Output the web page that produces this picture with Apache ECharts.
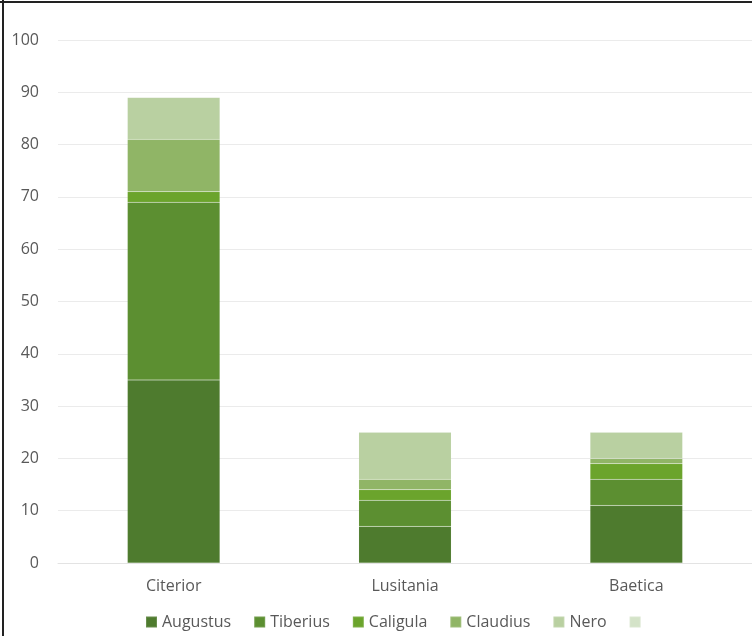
<!DOCTYPE html>
<html>
<head>
<meta charset="utf-8">
<style>
  html, body { margin: 0; padding: 0; background: #fff; }
  #chart { width: 752px; height: 636px; }
</style>
<script src="https://cdn.jsdelivr.net/npm/echarts@6/dist/echarts.min.js"></script>
</head>
<body>
<div id="chart"></div>
<script>
// Provinces of Hispania
const categories = ['Citerior', 'Lusitania', 'Baetica'];

// Counts per emperor, stacked
const augustus = [35, 7, 11];
const tiberius = [34, 5, 5];
const caligula = [2, 2, 3];
const claudius = [10, 2, 1];
const nero = [8, 9, 5];
const unnamed = [0, 0, 0];

const seriesNames = ['Augustus', 'Tiberius', 'Caligula', 'Claudius', 'Nero', ' '];
const seriesValues = [augustus, tiberius, caligula, claudius, nero, unnamed];
const seriesColors = ['#4e7b2e', '#5c8f31', '#6ba42c', '#90b566', '#b9d0a1', '#d4e3c8'];

const yTicks = { min: 0, max: 100, interval: 10 };

const chart = echarts.init(document.getElementById('chart'));

const textStyle = { color: '#595959', fontSize: 16, fontFamily: 'Open Sans, Lato, sans-serif' };

chart.setOption({
  animation: false,
  backgroundColor: '#ffffff',
  grid: { left: 58, right: -9, top: 40, bottom: 73 },
  legend: {
    bottom: 1,
    left: 140,
    itemWidth: 11,
    itemHeight: 11,
    itemGap: 22,
    icon: 'rect',
    textStyle: textStyle,
    data: seriesNames
  },
  xAxis: {
    type: 'category',
    data: categories,
    axisLine: { lineStyle: { color: '#e3e3e3', width: 1 } },
    axisTick: { show: false },
    axisLabel: Object.assign({ margin: 15 }, textStyle)
  },
  yAxis: {
    type: 'value',
    min: yTicks.min,
    max: yTicks.max,
    interval: yTicks.interval,
    axisLine: { show: false },
    axisTick: { show: false },
    splitLine: { lineStyle: { color: '#ebebeb', width: 1 } },
    axisLabel: Object.assign({ margin: 19 }, textStyle)
  },
  series: seriesNames.map((name, i) => ({
    name: name,
    type: 'bar',
    stack: 'total',
    barWidth: '40%',
    data: seriesValues[i],
    itemStyle: { color: seriesColors[i], borderColor: 'rgba(255,255,255,0.15)', borderWidth: 0.5 }
  })),
  graphic: [
    { type: 'line', shape: { x1: 3, y1: 0, x2: 3, y2: 636 }, style: { stroke: '#222', lineWidth: 2 } },
    { type: 'line', shape: { x1: 0, y1: 2, x2: 752, y2: 2 }, style: { stroke: '#222', lineWidth: 2 } }
  ]
});
</script>
</body>
</html>
